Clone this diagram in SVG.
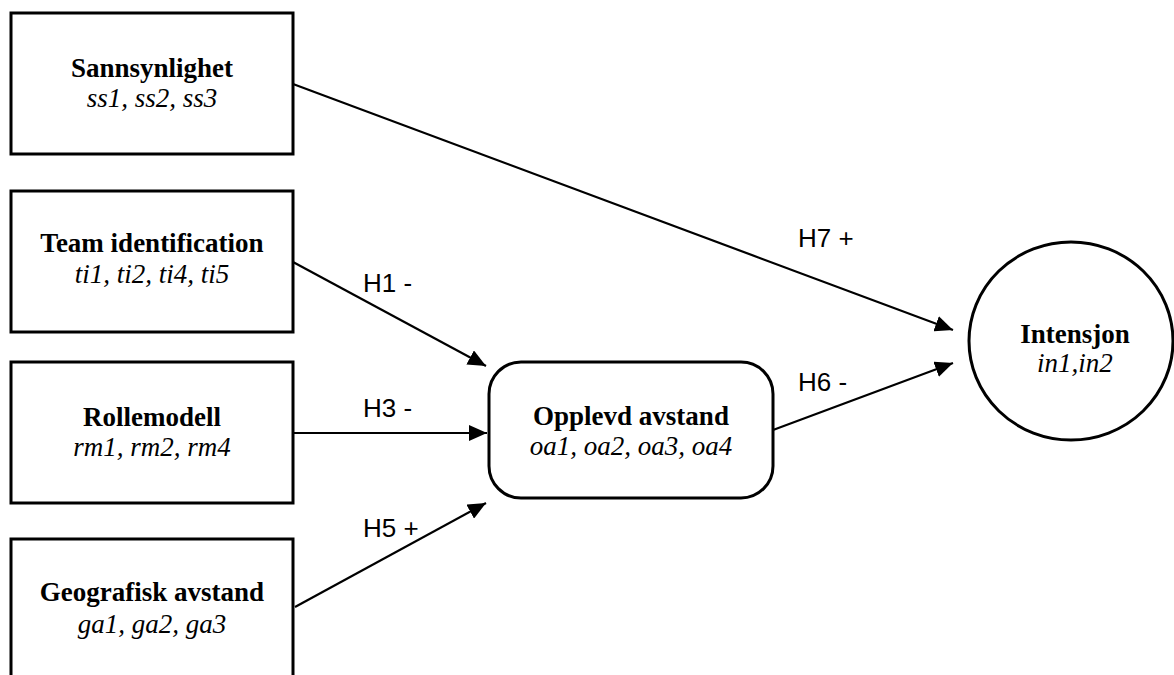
<svg xmlns="http://www.w3.org/2000/svg" width="1174" height="675" viewBox="0 0 1174 675">
  <style>
    .box { fill: #ffffff; stroke: #000000; stroke-width: 3; }
    .title { font-family: "Liberation Serif", "Times New Roman", serif; font-weight: bold; font-size: 27px; text-anchor: middle; fill: #000; }
    .items { font-family: "Liberation Serif", "Times New Roman", serif; font-style: italic; font-size: 27px; text-anchor: middle; fill: #000; }
    .edge { fill: none; stroke: #000000; stroke-width: 2.2; marker-end: url(#arrow); }
    .hyp { font-family: "Liberation Sans", Arial, sans-serif; font-size: 26px; fill: #000; }
  </style>
  <defs>
    <marker id="arrow" markerUnits="userSpaceOnUse" markerWidth="20" markerHeight="16" refX="18" refY="8" orient="auto">
      <path d="M0,0 L18,8 L0,16 Z" fill="#000"/>
    </marker>
  </defs>

  <rect x="0" y="0" width="1174" height="675" fill="#ffffff"/>

  <g id="node-sannsynlighet">
    <rect class="box" x="11" y="13" width="282" height="141"/>
    <text class="title" x="152" y="77">Sannsynlighet</text>
    <text class="items" x="152" y="107">ss1, ss2, ss3</text>
  </g>

  <g id="node-team-identification">
    <rect class="box" x="11" y="191" width="282" height="141"/>
    <text class="title" x="152" y="252">Team identification</text>
    <text class="items" x="152" y="283">ti1, ti2, ti4, ti5</text>
  </g>

  <g id="node-rollemodell">
    <rect class="box" x="11" y="362" width="282" height="141"/>
    <text class="title" x="152" y="426">Rollemodell</text>
    <text class="items" x="152" y="456">rm1, rm2, rm4</text>
  </g>

  <g id="node-geografisk-avstand">
    <rect class="box" x="11" y="539" width="282" height="150"/>
    <text class="title" x="152" y="601">Geografisk avstand</text>
    <text class="items" x="152" y="633">ga1, ga2, ga3</text>
  </g>

  <g id="node-opplevd-avstand">
    <rect class="box" x="489" y="362" width="284" height="136" rx="32" ry="32"/>
    <text class="title" x="631" y="425">Opplevd avstand</text>
    <text class="items" x="631" y="455">oa1, oa2, oa3, oa4</text>
  </g>

  <g id="node-intensjon">
    <ellipse class="box" cx="1071" cy="341" rx="102" ry="99"/>
    <text class="title" x="1075" y="343">Intensjon</text>
    <text class="items" x="1075" y="372">in1,in2</text>
  </g>

  <g id="connectors">
    <line class="edge" x1="293" y1="84" x2="953" y2="330"/>
    <line class="edge" x1="293" y1="262" x2="486" y2="366"/>
    <line class="edge" x1="293" y1="433" x2="487" y2="433"/>
    <line class="edge" x1="295" y1="607" x2="486" y2="503"/>
    <line class="edge" x1="773" y1="430" x2="953" y2="363"/>
    <text class="hyp" x="363" y="292">H1 -</text>
    <text class="hyp" x="363" y="417">H3 -</text>
    <text class="hyp" x="363" y="537">H5 +</text>
    <text class="hyp" x="798" y="247">H7 +</text>
    <text class="hyp" x="798" y="391">H6 -</text>
  </g>
</svg>
